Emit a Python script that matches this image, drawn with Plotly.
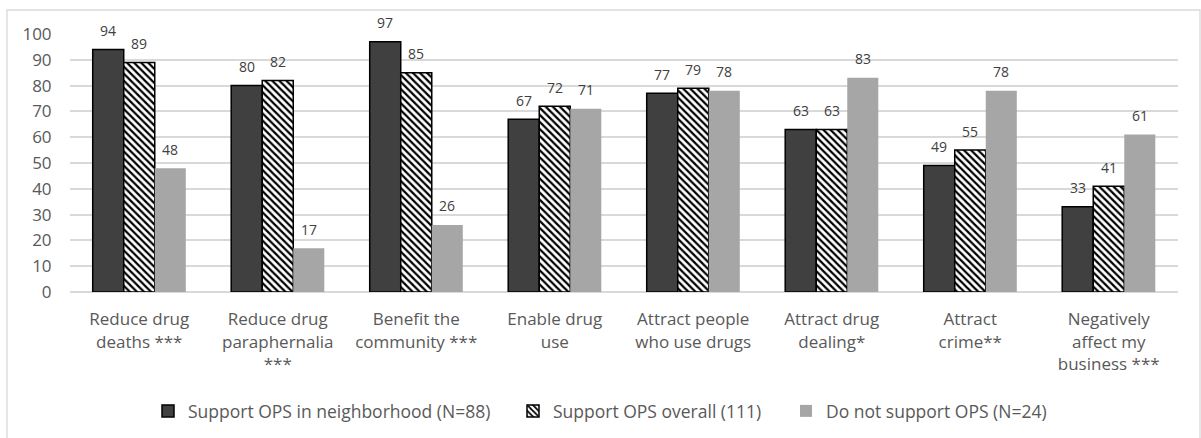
import plotly.graph_objects as go

categories = [
    "Reduce drug<br>deaths ***",
    "Reduce drug<br>paraphernalia<br>***",
    "Benefit the<br>community ***",
    "Enable drug<br>use",
    "Attract people<br>who use drugs",
    "Attract drug<br>dealing*",
    "Attract<br>crime**",
    "Negatively<br>affect my<br>business ***",
]
support_neighborhood = [94, 80, 97, 67, 77, 63, 49, 33]
support_overall = [89, 82, 85, 72, 79, 63, 55, 41]
do_not_support = [48, 17, 26, 71, 78, 83, 78, 61]
series_names = [
    "Support OPS in neighborhood (N=88)",
    "Support OPS overall (111)",
    "Do not support OPS (N=24)",
]
y_ticks = list(range(0, 101, 10))

FONT = "Open Sans"
TEXT_GREY = "#595959"
GRID = "#d9d9d9"
BARGAP = 0.328

fig = go.Figure()
fig.add_trace(go.Bar(
    x=categories, y=support_neighborhood, name=series_names[0], legend="legend",
    marker=dict(color="#404040", line=dict(color="#000000", width=1.5)),
))
fig.add_trace(go.Bar(
    x=categories, y=support_overall, name=series_names[1], legend="legend2",
    marker=dict(color="#ffffff", line=dict(color="#000000", width=1.5),
                pattern=dict(shape="\\", fgcolor="#000000", bgcolor="#ffffff",
                             size=5, solidity=0.45, fillmode="replace")),
))
fig.add_trace(go.Bar(
    x=categories, y=do_not_support, name=series_names[2], legend="legend3",
    marker=dict(color="#a6a6a6", line=dict(width=0)),
))

# data labels placed above each bar through the category axis
bar_w = (1 - BARGAP) / 3
annotations = []
for s, vals in enumerate([support_neighborhood, support_overall, do_not_support]):
    for i, v in enumerate(vals):
        annotations.append(dict(
            x=i + (s - 1) * bar_w, y=v, xref="x", yref="y",
            text=str(v), showarrow=False, yanchor="middle", yshift=19,
            font=dict(family=FONT, size=14, color="#404040"),
        ))

legend_style = dict(orientation="h", xref="container", yref="container",
                    yanchor="middle", y=1 - 411 / 438, xanchor="left",
                    font=dict(family=FONT, size=17.5, color=TEXT_GREY),
                    bgcolor="rgba(0,0,0,0)")

fig.update_layout(
    width=1201, height=438,
    margin=dict(l=70, r=23, t=34, b=146, autoexpand=False),
    paper_bgcolor="white", plot_bgcolor="white",
    barmode="group", bargap=BARGAP, bargroupgap=0,
    font=dict(family=FONT, color=TEXT_GREY),
    showlegend=True,
    legend=dict(legend_style, x=148 / 1201),
    legend2=dict(legend_style, x=513 / 1201),
    legend3=dict(legend_style, x=786 / 1201),
    annotations=annotations,
    shapes=[dict(type="rect", xref="paper", yref="paper",
                 x0=-63 / 1108, x1=1130 / 1108, y0=-150 / 258, y1=282 / 258,
                 line=dict(color=GRID, width=1.3), layer="below")],
)
fig.update_xaxes(
    tickfont=dict(family=FONT, size=17, color=TEXT_GREY),
    ticks="outside", ticklen=12, tickcolor="rgba(0,0,0,0)",
    showgrid=False, showline=False,
)
fig.update_yaxes(
    range=[0, 100], tickvals=y_ticks,
    tickfont=dict(family=FONT, size=17, color=TEXT_GREY),
    ticks="outside", ticklen=14, tickcolor="rgba(0,0,0,0)",
    showgrid=True, gridcolor=GRID, gridwidth=1.5,
    zeroline=True, zerolinecolor=GRID, zerolinewidth=1.5,
    showline=False,
)
fig.update_traces(cliponaxis=False)

fig.write_html("out.html")
